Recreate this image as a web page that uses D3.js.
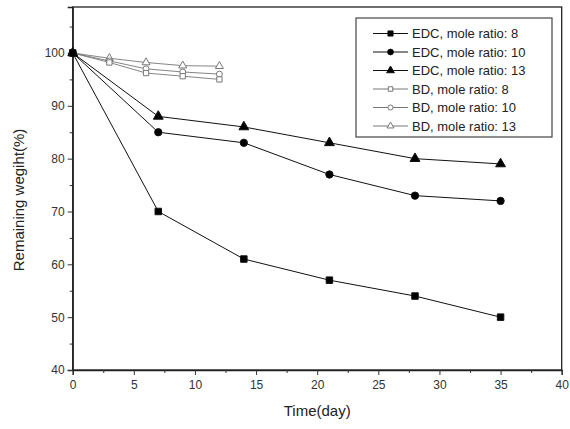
<!DOCTYPE html>
<html>
<head>
<meta charset="utf-8">
<script src="https://cdn.jsdelivr.net/npm/d3@7"></script>
<style>
  body { margin: 0; background: #fff; }
  text { font-family: "Liberation Sans", Arial, sans-serif; }
</style>
</head>
<body>
<div id="chart"></div>
<script>
// data
var edcDays = [0, 7, 14, 21, 28, 35];
var edc8 = [100, 70, 61, 57, 54, 50];
var edc10 = [100, 85, 83, 77, 73, 72];
var edc13 = [100, 88, 86, 83, 80, 79];

var bdDays = [0, 3, 6, 9, 12];
var bd8 = [100, 98.2, 96.2, 95.6, 95.0];
var bd10 = [100, 98.5, 97.0, 96.4, 96.0];
var bd13 = [100, 99.0, 98.2, 97.6, 97.5];

var xTicks = [0, 5, 10, 15, 20, 25, 30, 35, 40];
var yTicks = [40, 50, 60, 70, 80, 90, 100];

var series = [
  {name: "EDC, mole ratio: 8", x: edcDays, y: edc8, sym: "square", fill: true},
  {name: "EDC, mole ratio: 10", x: edcDays, y: edc10, sym: "circle", fill: true},
  {name: "EDC, mole ratio: 13", x: edcDays, y: edc13, sym: "triangle", fill: true},
  {name: "BD, mole ratio: 8", x: bdDays, y: bd8, sym: "square", fill: false},
  {name: "BD, mole ratio: 10", x: bdDays, y: bd10, sym: "circle", fill: false},
  {name: "BD, mole ratio: 13", x: bdDays, y: bd13, sym: "triangle", fill: false}
];

var width = 570, height = 429;
var pLeft = 72.7, pRight = 561.7, pTop = 7, pBottom = 370;

var svg = d3.select("#chart").append("svg")
    .attr("width", width)
    .attr("height", height);

var x = d3.scaleLinear().domain([0, 40]).range([pLeft, pRight]);
var y = d3.scaleLinear().domain([40, 108.7]).range([pBottom, pTop]);

// frame
svg.append("rect")
    .attr("x", pLeft).attr("y", pTop)
    .attr("width", pRight - pLeft).attr("height", pBottom - pTop)
    .attr("fill", "none").attr("stroke", "#222").attr("stroke-width", 1.3);

// x axis with minor ticks
svg.append("g")
    .attr("transform", "translate(0," + pBottom + ")")
    .call(d3.axisBottom(x).tickValues(xTicks).tickSize(5).tickPadding(5));
svg.append("g")
    .attr("transform", "translate(0," + pBottom + ")")
    .call(d3.axisBottom(x).tickValues(d3.range(2.5, 40, 5)).tickSize(3).tickFormat(""))
    .select(".domain").remove();

svg.append("g")
    .attr("transform", "translate(" + pLeft + ",0)")
    .call(d3.axisLeft(y).tickValues(yTicks).tickSize(5).tickPadding(3));
svg.append("g")
    .attr("transform", "translate(" + pLeft + ",0)")
    .call(d3.axisLeft(y).tickValues(d3.range(45, 110, 10)).tickSize(3).tickFormat(""))
    .select(".domain").remove();

svg.selectAll(".domain").attr("stroke", "#222").attr("stroke-width", 1.3);
svg.selectAll(".tick line").attr("stroke", "#333");
svg.selectAll(".tick text")
    .attr("font-size", 12)
    .attr("fill", "#333")
    .style("font-family", "Liberation Sans, Arial, sans-serif");

// axis titles
svg.append("text")
    .attr("x", (pLeft + pRight) / 2)
    .attr("y", 416)
    .attr("text-anchor", "middle")
    .attr("font-size", 15)
    .attr("fill", "#222")
    .text("Time(day)");

svg.append("text")
    .attr("transform", "translate(24,200) rotate(-90)")
    .attr("text-anchor", "middle")
    .attr("font-size", 15)
    .attr("fill", "#222")
    .text("Remaining wegiht(%)");

function symbolPath(sym, size) {
    var t = sym == "square" ? d3.symbolSquare : sym == "circle" ? d3.symbolCircle : d3.symbolTriangle;
    return d3.symbol().type(t).size(size)();
}

var line = d3.line()
    .x(function(d) { return x(d[0]); })
    .y(function(d) { return y(d[1]); });

// BD series first so EDC draws on top
series.slice().reverse().forEach(function(s) {
    var pts = s.x.map(function(d, i) { return [d, s.y[i]]; });
    var col = s.fill ? "#111" : "#777";
    svg.append("path")
        .attr("d", line(pts))
        .attr("fill", "none")
        .attr("stroke", col)
        .attr("stroke-width", s.fill ? 1 : 0.9);
    svg.selectAll(null)
        .data(pts)
        .enter()
        .append("path")
        .attr("d", symbolPath(s.sym, s.fill ? 42 : 28))
        .attr("transform", function(d) { return "translate(" + x(d[0]) + "," + y(d[1]) + ")"; })
        .attr("fill", s.fill ? "#000" : "#fff")
        .attr("stroke", col)
        .attr("stroke-width", 1);
});

// legend
var legend = svg.append("g");
legend.append("rect")
    .attr("x", 356).attr("y", 18)
    .attr("width", 196).attr("height", 119)
    .attr("fill", "#fff").attr("stroke", "#444").attr("stroke-width", 1.2);

series.forEach(function(s, i) {
    var ly = 33.5 + i * 18.5;
    var col = s.fill ? "#111" : "#777";
    legend.append("line")
        .attr("x1", 373).attr("x2", 408)
        .attr("y1", ly).attr("y2", ly)
        .attr("stroke", col).attr("stroke-width", 1);
    legend.append("path")
        .attr("d", symbolPath(s.sym, s.fill ? 26 : 20))
        .attr("transform", "translate(390.5," + ly + ")")
        .attr("fill", s.fill ? "#000" : "#fff")
        .attr("stroke", col);
    legend.append("text")
        .attr("x", 412).attr("y", ly + 4.5)
        .attr("font-size", 13)
        .attr("fill", "#222")
        .text(s.name);
});
</script>
</body>
</html>
